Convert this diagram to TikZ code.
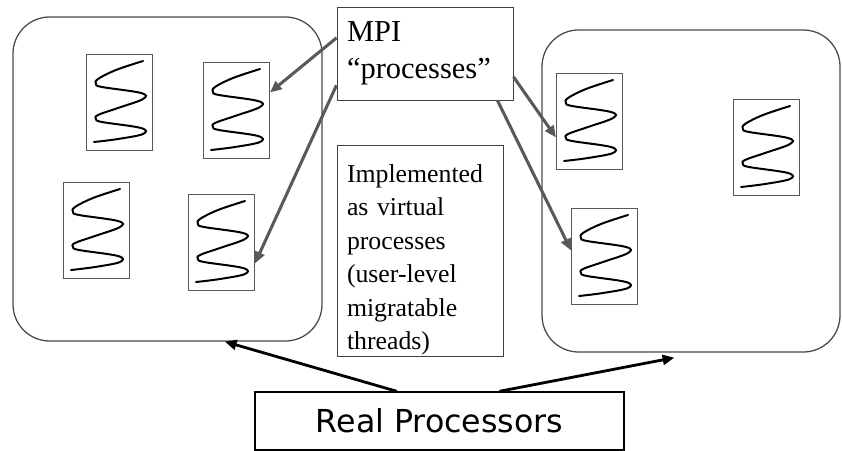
\documentclass[tikz,border=0pt]{standalone}
\usepackage{fontspec}
\setmainfont{Liberation Serif}
\newfontfamily\realfont{DejaVu Sans}
\usepackage{tikz}
\usetikzlibrary{arrows.meta}

\begin{document}
\begin{tikzpicture}[x=0.03cm, y=-0.03cm, >={Triangle[length=10pt, width=8.5pt]},
    proc/.style={draw=black!70, line width=1.1pt, rounded corners=1.1cm, inner sep=0},
    thread/.style={draw=black!65, line width=0.8pt, minimum width=1.98cm, minimum height=2.88cm, inner sep=0, anchor=north west},
    squig/.style={line width=1.7pt, black, line cap=round},
    tbox/.style={draw=black!75, line width=0.8pt, inner xsep=0.3cm, align=left},
    mpiarrow/.style={->, line width=2.6pt, black!65},
    realarrow/.style={->, line width=2.4pt, black}]
    \useasboundingbox (0,0) rectangle (842,451);

    \node[proc, minimum width=9.27cm, minimum height=9.72cm] (proc1) at (167.5,179) {};
    \node[proc, minimum width=8.94cm, minimum height=9.66cm] (proc2) at (691,191) {};

    \foreach \n/\x/\y in {1/86/54, 2/203/62, 3/63/182, 4/188/194, 5/556/73, 6/733/99, 7/571/208} {
        \node[thread] (t\n) at (\x,\y) {};
        \draw[squig, shift={(\x,\y)}] plot[smooth, tension=0.6] coordinates {(57,7) (30,16) (12,25) (10,30) (16,33) (55,39) (57,45) (32,54) (12,61) (10,65) (16,68) (55,74) (57,80) (32,85) (8,88)};
    }

    \node[tbox, text width=4.68cm, minimum height=2.79cm, font={\fontsize{26}{32}\selectfont}] (mpi) at (425,53.5) {MPI\\“processes”};
    \node[tbox, text width=4.38cm, minimum height=6.33cm, inner ysep=0, font={\fontsize{22}{28.5}\selectfont}] (impl) at (420,250.5) {\rule{0pt}{31pt}Implemented\\as virtual\\processes\\(user-level\\migratable\\threads)};
    \node[draw, line width=1.2pt, minimum width=11.07cm, minimum height=1.74cm, inner sep=0, font={\realfont\fontsize{27}{32}\selectfont}] (real) at (439.5,421) {Real Processors};

    \draw[mpiarrow] ([yshift=0.47cm]mpi.west) -- ([yshift=0.54cm]t2.east);
    \draw[mpiarrow] ([yshift=-0.95cm]mpi.west) -- ([yshift=-0.63cm]t4.east);
    \draw[mpiarrow] ([yshift=-0.7cm]mpi.east) -- ([yshift=-0.48cm]t5.west);
    \draw[mpiarrow] ([xshift=-0.48cm]mpi.south east) -- ([yshift=0.18cm]t7.west);

    \draw[realarrow] ([xshift=-1.28cm]real.north) -- ([xshift=1.72cm]proc1.south);
    \draw[realarrow] ([xshift=1.8cm]real.north) -- ([xshift=-0.5cm, yshift=-0.15cm]proc2.south);
\end{tikzpicture}
\end{document}
